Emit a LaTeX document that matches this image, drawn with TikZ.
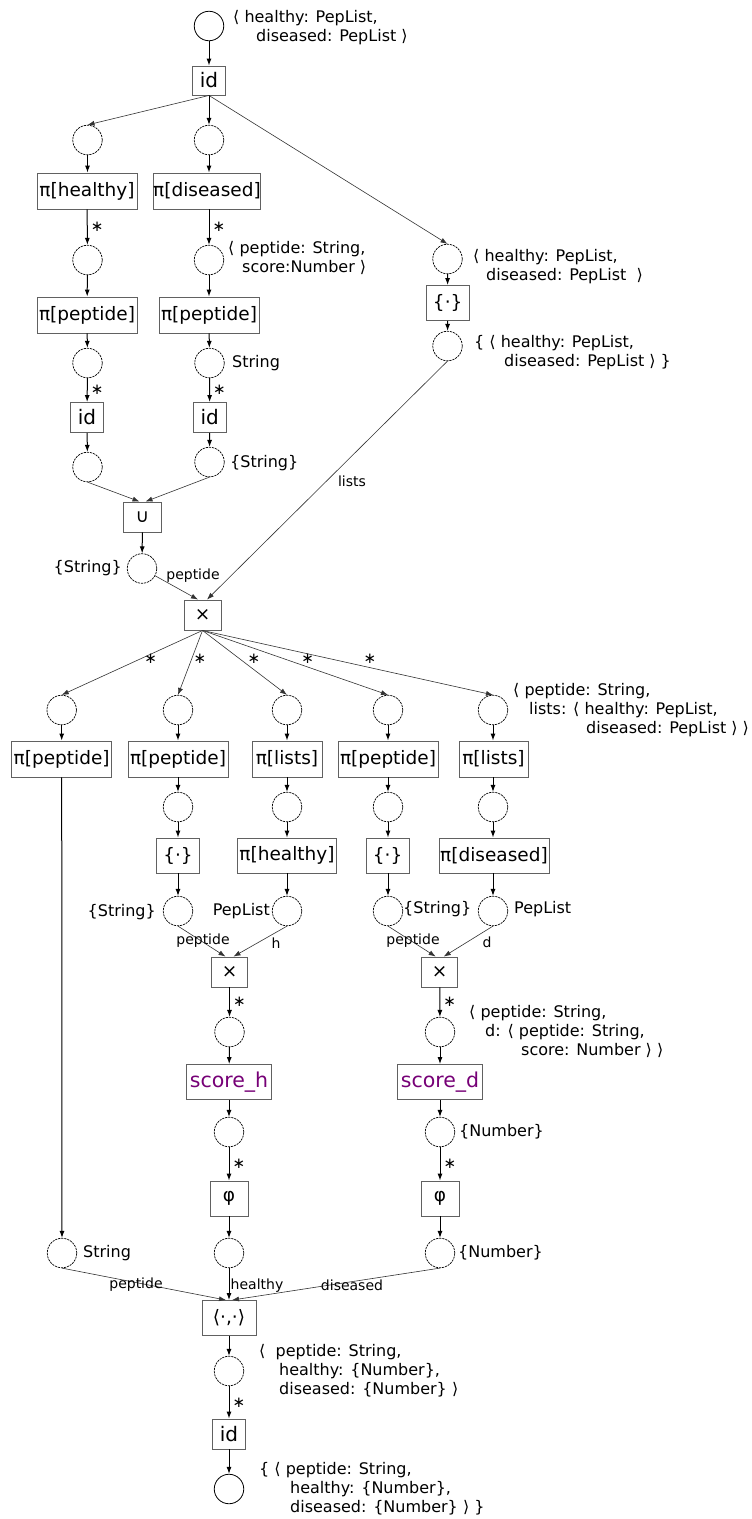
\documentclass[tikz,border=0pt]{standalone}
\usepackage{fontspec}
\setmainfont{DejaVu Sans}
\usetikzlibrary{arrows.meta}
\definecolor{scorepurple}{RGB}{118,0,118}
\begin{document}
\begin{tikzpicture}[x=1pt,y=-1pt,
  pl/.style={circle, draw=black, line width=0.7pt, dash pattern=on 2.2pt off 0.9pt, minimum size=29.5pt, inner sep=0pt},
  plsolid/.style={circle, draw=black, line width=0.8pt, minimum size=29.5pt, inner sep=0pt},
  tr/.style={rectangle, draw=black!62, line width=0.9pt, inner sep=0pt, minimum height=36pt, font=\fontsize{18.5}{20}\selectfont},
  idbox/.style={tr, minimum width=33pt, minimum height=30pt, font=\fontsize{20}{20}\selectfont},
  scorebox/.style={tr, minimum width=85pt, minimum height=35pt, text=scorepurple, font=\fontsize{20.5}{22}\selectfont},
  lab/.style={inner sep=0pt, font=\fontsize{16}{19}\selectfont, align=left},
  slab/.style={inner sep=0pt, font=\fontsize{16}{19}\selectfont},
  elab/.style={inner sep=0pt, font=\fontsize{14}{16}\selectfont},
  star/.style={inner sep=0pt, font=\fontsize{15}{15}\selectfont},
  arr/.style={-{Latex[length=7pt,width=5pt]}, line width=1pt, black},
  tarr/.style={-{Latex[length=7pt,width=5pt]}, line width=0.6pt, black!80},
]
\useasboundingbox (0,0) rectangle (752,1519);

% ---------- top part ----------
\node[plsolid] (c0) at (209,26) {};
\node[lab, anchor=north west] (c0l) at (233,10) {⟨ healthy: PepList,\\\hspace*{23pt}diseased: PepList ⟩};
\node[idbox, minimum height=29pt] (id0) at (209,80.5) {id};

\node[pl] (hA1) at (87.5,140) {};
\node[pl] (dB1) at (209,140) {};
\node[pl] (r1) at (447.5,259) {};
\node[lab, anchor=north west] (r1l) at (473,249) {⟨ healthy: PepList,\\\hspace*{13pt}diseased: PepList \ ⟩};

\node[tr, minimum width=100pt] (pH) at (87,191) {π[healthy]};
\node[tr, minimum width=105pt] (pD) at (207,191) {π[diseased]};
\node[pl] (hA2) at (87.5,260) {};
\node[pl] (dB2) at (209,260) {};
\node[lab, anchor=north west] (dB2l) at (228,241) {⟨ peptide: String,\\\hspace*{14pt}score:Number ⟩};
\node[tr, minimum width=100pt] (ppA) at (87,315) {π[peptide]};
\node[tr, minimum width=100pt] (ppB) at (209,315) {π[peptide]};
\node[pl] (hA3) at (87.5,363) {};
\node[pl] (dB3) at (209.5,363) {};
\node[slab, anchor=west] (dB3l) at (232,363) {String};
\node[idbox] (idA) at (87,417.5) {id};
\node[idbox] (idB) at (209.7,417.5) {id};
\node[pl] (hA4) at (87.5,467) {};
\node[pl] (dB4) at (209.5,462) {};
\node[slab, anchor=west] (dB4l) at (230,463) {\{String\}};
\node[tr, minimum width=38pt, minimum height=30pt] (un) at (142.5,517) {∪};
\node[pl] (cu) at (142,568.5) {};
\node[slab, anchor=east] (cul) at (122,568) {\{String\}};

\node[tr, minimum width=43pt, minimum height=35pt] (setR) at (447.7,303) {\{·\}};
\node[pl] (r2) at (447.5,346) {};
\node[lab, anchor=north west] (r2l) at (474,335) {\{ ⟨ healthy: PepList,\\\hspace*{30pt}diseased: PepList ⟩ \}};

\node[tr, minimum width=37pt, minimum height=30pt] (x0) at (202.5,615) {×};

\draw[arr] (c0) -- (id0);
\draw[tarr] (id0.south) -- (hA1.north);
\draw[arr] (id0) -- (dB1);
\draw[tarr] (id0.south) -- (r1.north);
\draw[arr] (hA1) -- (hA1 |- pH.north);
\draw[arr] (dB1) -- (dB1 |- pD.north);
\draw[arr] (pH) -- node[star, right=3pt] {∗} (hA2);
\draw[arr] (dB2 |- pD.south) -- node[star, right=3pt] {∗} (dB2);
\draw[arr] (hA2) -- (ppA);
\draw[arr] (dB2) -- (ppB);
\draw[arr] (ppA) -- (hA3);
\draw[arr] (ppB) -- (dB3);
\draw[arr] (hA3) -- node[star, right=3pt] {∗} (idA);
\draw[arr] (dB3) -- node[star, right=3pt] {∗} (idB);
\draw[arr] (idA) -- (hA4);
\draw[arr] (idB) -- (dB4);
\draw[tarr] (hA4.south) -- ([xshift=-3pt]un.north);
\draw[tarr] (dB4.south) -- ([xshift=3pt]un.north);
\draw[arr] (un) -- (cu);
\draw[arr] (r1) -- (setR);
\draw[arr] (setR) -- (r2);
\draw[tarr] (cu) -- ([xshift=-4.5pt]x0.north);
\draw[tarr] (r2.south) -- ([xshift=4.5pt]x0.north);
\node[elab] (lpep0) at (193,576) {peptide};
\node[elab] (llists) at (352,481) {lists};

% ---------- fan ----------
\node[pl] (f1) at (61.7,710) {};
\node[pl] (f2) at (178,710) {};
\node[pl] (f3) at (287,710) {};
\node[pl] (f4) at (388,710) {};
\node[pl] (f5) at (493,710) {};
\node[lab, anchor=north west] (f5l) at (513,683) {⟨ peptide: String,\\\hspace*{16pt}lists: ⟨ healthy: PepList,\\\hspace*{73pt}diseased: PepList ⟩ ⟩};
\draw[tarr] (x0.south) -- (f1.north);
\draw[tarr] (x0.south) -- (f2.north);
\draw[tarr] (x0.south) -- (f3.north);
\draw[tarr] (x0.south) -- (f4.north);
\draw[tarr] (x0.south) -- (f5.north);
\node[star] (s1) at (150.7,659) {∗};
\node[star] (s2) at (200,659) {∗};
\node[star] (s3) at (254,659) {∗};
\node[star] (s4) at (307.7,659) {∗};
\node[star] (s5) at (370,659) {∗};

\node[tr, minimum width=100pt] (b1) at (61.7,759) {π[peptide]};
\node[tr, minimum width=100pt] (b2) at (178,759) {π[peptide]};
\node[tr, minimum width=70pt] (b3) at (287,759) {π[lists]};
\node[tr, minimum width=100pt] (b4) at (388,759) {π[peptide]};
\node[tr, minimum width=69pt] (b5) at (493.5,759) {π[lists]};
\foreach \i in {1,...,5} { \draw[arr] (f\i) -- (f\i |- b\i.north); }

\node[pl] (g2) at (178,807) {};
\node[pl] (g3) at (287,807) {};
\node[pl] (g4) at (388,807) {};
\node[pl] (g5) at (493,807) {};
\foreach \i in {2,...,5} { \draw[arr] (g\i |- b\i.south) -- (g\i); }

\node[tr, minimum width=43pt, minimum height=35pt] (e2) at (178,855.5) {\{·\}};
\node[tr, minimum width=99pt, minimum height=35pt] (e3) at (287,855.5) {π[healthy]};
\node[tr, minimum width=43pt, minimum height=35pt] (e4) at (387.6,855.5) {\{·\}};
\node[tr, minimum width=110pt, minimum height=35pt] (e5) at (494,855.5) {π[diseased]};
\foreach \i in {2,...,5} { \draw[arr] (g\i) -- (g\i |- e\i.north); }

\node[pl] (k2) at (178,911) {};
\node[pl] (k3) at (287,911) {};
\node[pl] (k4) at (388,911) {};
\node[pl] (k5) at (493,911) {};
\foreach \i in {2,...,5} { \draw[arr] (k\i |- e\i.south) -- (k\i); }
\node[slab, anchor=east] (k2l) at (156,912) {\{String\}};
\node[slab, anchor=east] (k3l) at (270,911) {PepList};
\node[slab, anchor=west] (k4l) at (403,909) {\{String\}};
\node[slab, anchor=west] (k5l) at (514,909) {PepList};

\node[tr, minimum width=36pt, minimum height=30pt] (xh) at (229.5,972) {×};
\node[tr, minimum width=36pt, minimum height=30pt] (xd) at (439.7,972) {×};
\draw[tarr] (k2.south) -- ([xshift=-4pt]xh.north);
\draw[tarr] (k3.south) -- ([xshift=4pt]xh.north);
\draw[tarr] (k4.south) -- ([xshift=-4pt]xd.north);
\draw[tarr] (k5.south) -- ([xshift=4pt]xd.north);
\node[elab] (lp1) at (203,941) {peptide};
\node[elab] (lh) at (276,943) {h};
\node[elab] (lp2) at (413,941) {peptide};
\node[elab] (ld) at (487,942) {d};

\node[pl] (m2) at (229.5,1032) {};
\node[pl] (m4) at (440,1032) {};
\draw[arr] (xh) -- node[star, right=3pt] {∗} (m2);
\draw[arr] (xd) -- node[star, right=3pt] {∗} (m4);
\node[lab, anchor=north west] (m4l) at (469,1005) {⟨ peptide: String,\\\hspace*{16pt}d: ⟨ peptide: String,\\\hspace*{52pt}score: Number ⟩ ⟩};

\node[scorebox] (sh) at (229,1082) {score\_h};
\node[scorebox] (sd) at (440,1082) {score\_d};
\draw[arr] (m2) -- (sh);
\draw[arr] (m4) -- (sd);

\node[pl] (n2) at (229,1132) {};
\node[pl] (n4) at (440,1132) {};
\node[slab, anchor=west] (n4l) at (459,1132) {\{Number\}};
\draw[arr] (sh) -- (n2);
\draw[arr] (sd) -- (n4);

\node[tr, minimum width=38pt, minimum height=35pt] (ph) at (229,1198.5) {φ};
\node[tr, minimum width=38pt, minimum height=35pt] (pd) at (440,1198.5) {φ};
\draw[arr] (n2) -- node[star, right=3pt] {∗} (ph);
\draw[arr] (n4) -- node[star, right=3pt] {∗} (pd);

\node[pl] (o1) at (62,1253) {};
\node[pl] (o2) at (229,1253) {};
\node[pl] (o4) at (440,1253) {};
\node[slab, anchor=west] (o1l) at (83,1253) {String};
\node[slab, anchor=west] (o4l) at (458,1253) {\{Number\}};
\draw[arr] (b1) -- (o1);
\draw[arr] (ph) -- (o2);
\draw[arr] (pd) -- (o4);

\node[tr, minimum width=54pt, minimum height=35pt] (pair) at (229,1318) {⟨·,·⟩};
\draw[tarr] (o1.south) -- ([xshift=-3pt]pair.north);
\draw[arr] (o2) -- (pair);
\draw[tarr] (o4.south) -- ([xshift=3pt]pair.north);
\node[elab] (lpp) at (136,1285) {peptide};
\node[elab] (lhh) at (257,1286) {healthy};
\node[elab] (ldd) at (352,1285) {diseased};

\node[pl] (q) at (229,1371) {};
\node[lab, anchor=north west] (ql) at (259,1344) {⟨ \ peptide: String,\\\hspace*{20pt}healthy: \{Number\},\\\hspace*{20pt}diseased: \{Number\} ⟩};
\draw[arr] (pair) -- (q);
\node[idbox] (idF) at (229,1434) {id};
\draw[arr] (q) -- node[star, right=3pt] {∗} (idF);
\node[plsolid] (z) at (229,1489) {};
\draw[arr] (idF) -- (z);
\node[lab, anchor=north west] (zl) at (259,1462) {\{ ⟨ peptide: String,\\\hspace*{31pt}healthy: \{Number\},\\\hspace*{31pt}diseased: \{Number\} ⟩ \}};
\end{tikzpicture}
\end{document}
